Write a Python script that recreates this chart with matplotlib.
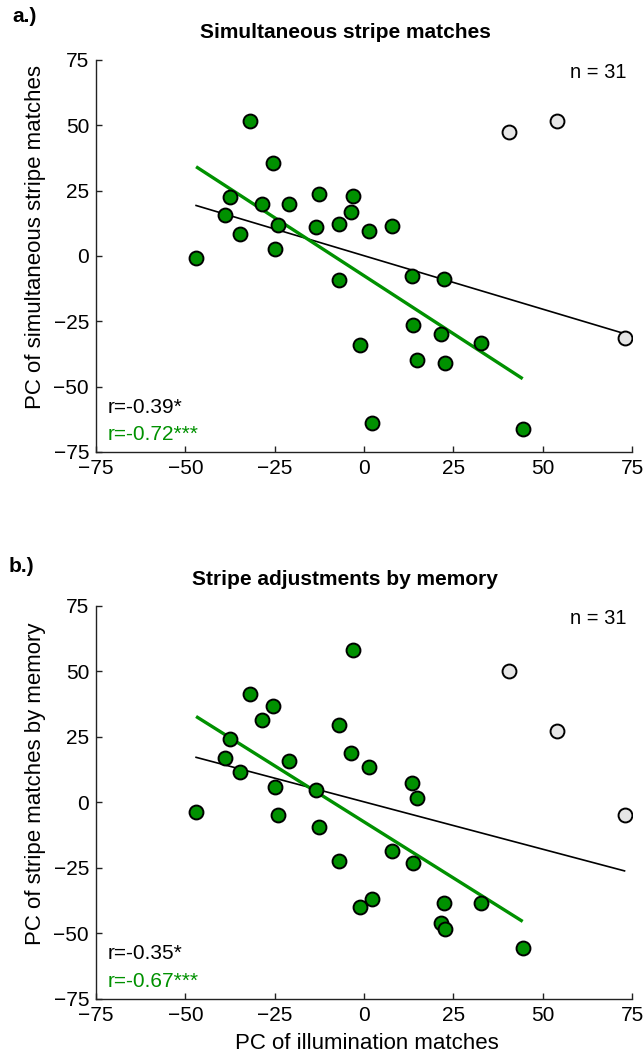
import numpy as np
import matplotlib
matplotlib.use("Agg")
import matplotlib.pyplot as plt

plt.rcParams['font.family'] = ['Liberation Sans', 'DejaVu Sans']

# PC of illumination matches (shared x for both panels)
illum_green = [-47.0, -31.9, -25.4, -37.5, -38.8, -34.7, -28.6, -24.0, -24.9, -21.1,
               -12.7, -13.5, -7.0, -3.0, -3.6, 1.5, -7.0, -1.2, 2.2, 7.9,
               13.5, 22.4, 13.6, 21.5, 32.7, 14.9, 22.7, 44.4]
illum_gray = [40.7, 53.9, 72.9]

# Panel a: PC of simultaneous stripe matches
simul_green = [-0.8, 51.5, 35.5, 22.6, 15.7, 8.3, 19.9, 11.7, 2.8, 19.7,
               23.6, 11.2, 12.3, 22.8, 16.8, 9.7, -9.3, -34.1, -64.1, 11.5,
               -7.8, -9.0, -26.6, -29.8, -33.3, -39.7, -40.8, -66.1]
simul_gray = [47.3, 51.7, -31.5]

# Panel b: PC of stripe matches by memory
memory_green = [-3.6, 41.3, 36.8, 24.0, 16.8, 11.6, 31.3, -5.0, 5.8, 15.8,
                -9.3, 4.7, 29.5, 58.0, 18.7, 13.6, -22.4, -40.1, -36.9, -18.5,
                7.3, -38.5, -23.1, -46.1, -38.3, 1.8, -48.3, -55.5]
memory_gray = [50.1, 27.3, -4.9]

r_all = ["r=-0.39*", "r=-0.35*"]
r_green = ["r=-0.72***", "r=-0.67***"]
titles = ["Simultaneous stripe matches", "Stripe adjustments by memory"]
panel_tags = ["a.)", "b.)"]
ylabels = ["PC of simultaneous stripe matches", "PC of stripe matches by memory"]
ticks = [-75, -50, -25, 0, 25, 50, 75]

GREEN = "#009100"
GRAY = "#e6e6e6"
SPINE = "#222222"

fig = plt.figure(figsize=(6.44, 10.57), dpi=100)
ax_a = fig.add_axes([0.1491, 0.5724, 0.8323, 0.3709])
ax_b = fig.add_axes([0.1491, 0.0551, 0.8323, 0.3718])


def draw_panel(ax, yg, ygray, idx):
    xg = np.array(illum_green)
    xa = np.concatenate([xg, illum_gray])
    ya = np.concatenate([yg, ygray])
    yg = np.array(yg)

    # regression over all participants (black) and over the green subset
    pa = np.polyfit(xa, ya, 1)
    xs = np.array([xa.min(), xa.max()])
    ax.plot(xs, np.polyval(pa, xs), color="black", lw=1.2, zorder=2)
    pg = np.polyfit(xg, yg, 1)
    xs = np.array([xg.min(), xg.max()])
    ax.plot(xs, np.polyval(pg, xs), color=GREEN, lw=2.4, zorder=2,
            solid_capstyle="butt")

    ax.scatter(xg, yg, s=100, facecolor=GREEN, edgecolor="black",
               linewidth=1.4, zorder=3)
    ax.scatter(illum_gray, ygray, s=100, facecolor=GRAY, edgecolor="black",
               linewidth=1.4, zorder=3)

    ax.set_xlim(-75, 75)
    ax.set_ylim(-75, 75)
    ax.set_xticks(ticks)
    ax.set_yticks(ticks)
    for side in ("top", "right"):
        ax.spines[side].set_visible(False)
    for side in ("left", "bottom"):
        ax.spines[side].set_color(SPINE)
        ax.spines[side].set_linewidth(1.0)
    ax.tick_params(direction="in", length=4, width=1.0, color=SPINE,
                   labelsize=15, pad=5)

    ax.set_ylabel(ylabels[idx], fontsize=16)
    ax.yaxis.set_label_coords(-0.094, 0.548)

    ax.text(0.99, 0.967, "n = 31", transform=ax.transAxes, ha="right",
            va="center", fontsize=14.5)
    ax.text(0.021, 0.114, r_all[idx], transform=ax.transAxes, ha="left",
            va="center", fontsize=15, color="black")
    ax.text(0.021, 0.045, r_green[idx], transform=ax.transAxes, ha="left",
            va="center", fontsize=15, color=GREEN)


draw_panel(ax_a, simul_green, simul_gray, 0)
draw_panel(ax_b, memory_green, memory_gray, 1)

ax_b.set_xlabel("PC of illumination matches", fontsize=16)
ax_b.xaxis.set_label_coords(0.506, -0.088)

fig.text(0.537, 0.9697, titles[0], ha="center", va="center",
         fontsize=15, fontweight="bold")
fig.text(0.536, 0.4522, titles[1], ha="center", va="center",
         fontsize=15, fontweight="bold")
fig.text(0.0186, 0.984, panel_tags[0], ha="left", va="center",
         fontsize=15, fontweight="bold")
fig.text(0.014, 0.4636, panel_tags[1], ha="left", va="center",
         fontsize=15, fontweight="bold")

fig.savefig("out.png", dpi=100)
